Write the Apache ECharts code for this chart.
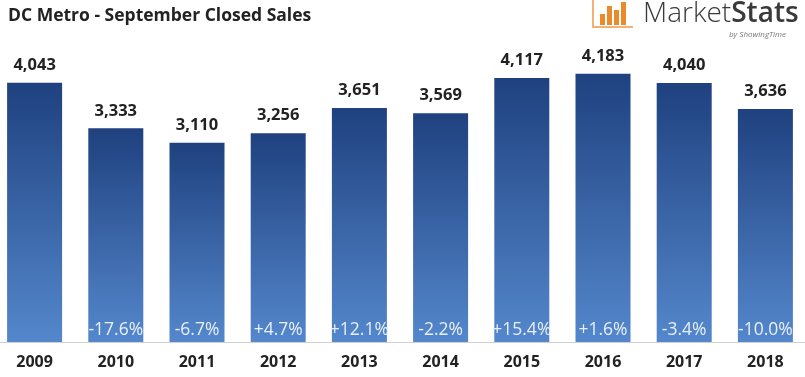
<!DOCTYPE html>
<html><head><meta charset="utf-8">
<script src="https://cdn.jsdelivr.net/npm/echarts@6/dist/echarts.min.js"></script>
<style>html,body{margin:0;padding:0;background:#fff;overflow:hidden;width:805px;height:377px}
#c{position:absolute;left:-6px;top:0;width:812px;height:377px}</style>
</head><body><div id="c"></div>
<script>
const years = ['2009','2010','2011','2012','2013','2014','2015','2016','2017','2018'];
const sales = [4043,3333,3110,3256,3651,3569,4117,4183,4040,3636];
const changes = ['','-17.6%','-6.7%','+4.7%','+12.1%','-2.2%','+15.4%','+1.6%','-3.4%','-10.0%'];
const titleText = 'DC Metro - September Closed Sales';

const FONT = '"Open Sans", "Noto Sans", sans-serif';
const OX = 6; // container offset
const chart = echarts.init(document.getElementById('c'), null, {renderer:'canvas'});
const grad = new echarts.graphic.LinearGradient(0,0,0,1,[
  {offset:0,color:'#1f417f'},{offset:1,color:'#5487cc'}]);
chart.setOption({
  animation:false,
  backgroundColor:'#fff',
  title:{text:titleText,left:3+OX,top:2,textStyle:{fontFamily:FONT,fontWeight:'bold',fontSize:17.5,color:'#222'}},
  grid:{left:0,right:0,top:21.5,bottom:35},
  xAxis:{type:'category',data:years,
    axisLine:{lineStyle:{color:'#d0d0d0',width:1}},axisTick:{show:false},
    axisLabel:{fontFamily:FONT,fontWeight:'bold',fontSize:16,color:'#222',margin:12}},
  yAxis:{type:'value',min:0,max:5000,show:false,splitLine:{show:false}},
  series:[
    {type:'bar',data:sales,barWidth:55,itemStyle:{color:grad},
     label:{show:true,position:'top',distance:9,fontFamily:FONT,fontWeight:'bold',fontSize:16.5,color:'#222',
       formatter:p=>p.value.toLocaleString('en-US')}},
    {type:'bar',data:sales,barWidth:55,barGap:'-100%',itemStyle:{color:'rgba(0,0,0,0)'},
     label:{show:true,position:'insideBottom',distance:3,fontFamily:FONT,fontSize:17.5,color:'#e9eff8',
       formatter:p=>changes[p.dataIndex]}}
  ],
  graphic:[
    {type:'rect',shape:{x:592+OX,y:0,width:2,height:28},style:{fill:'#f2b276'}},
    {type:'rect',shape:{x:592+OX,y:26,width:41,height:2},style:{fill:'#f2b276'}},
    {type:'rect',shape:{x:600+OX,y:14,width:5,height:11},style:{fill:'#e98a2c'}},
    {type:'rect',shape:{x:607+OX,y:6,width:5,height:19},style:{fill:'#e98a2c'}},
    {type:'rect',shape:{x:614+OX,y:10,width:5,height:15},style:{fill:'#e98a2c'}},
    {type:'rect',shape:{x:621+OX,y:2,width:5,height:23},style:{fill:'#e98a2c'}},
    {type:'text',left:643+OX,top:0,style:{text:'{a|Market}{b|Stats}',
      rich:{a:{fontFamily:FONT,fontSize:28,fontWeight:300,fill:'#3a3a3a'},b:{fontFamily:FONT,fontSize:28,fontWeight:600,fill:'#3a3a3a'}}}},
    {type:'text',left:729+OX,top:31,style:{text:'by ShowingTime',fontFamily:FONT,fontSize:8,fontStyle:'italic',fill:'#777'}}
  ]
});
</script></body></html>
